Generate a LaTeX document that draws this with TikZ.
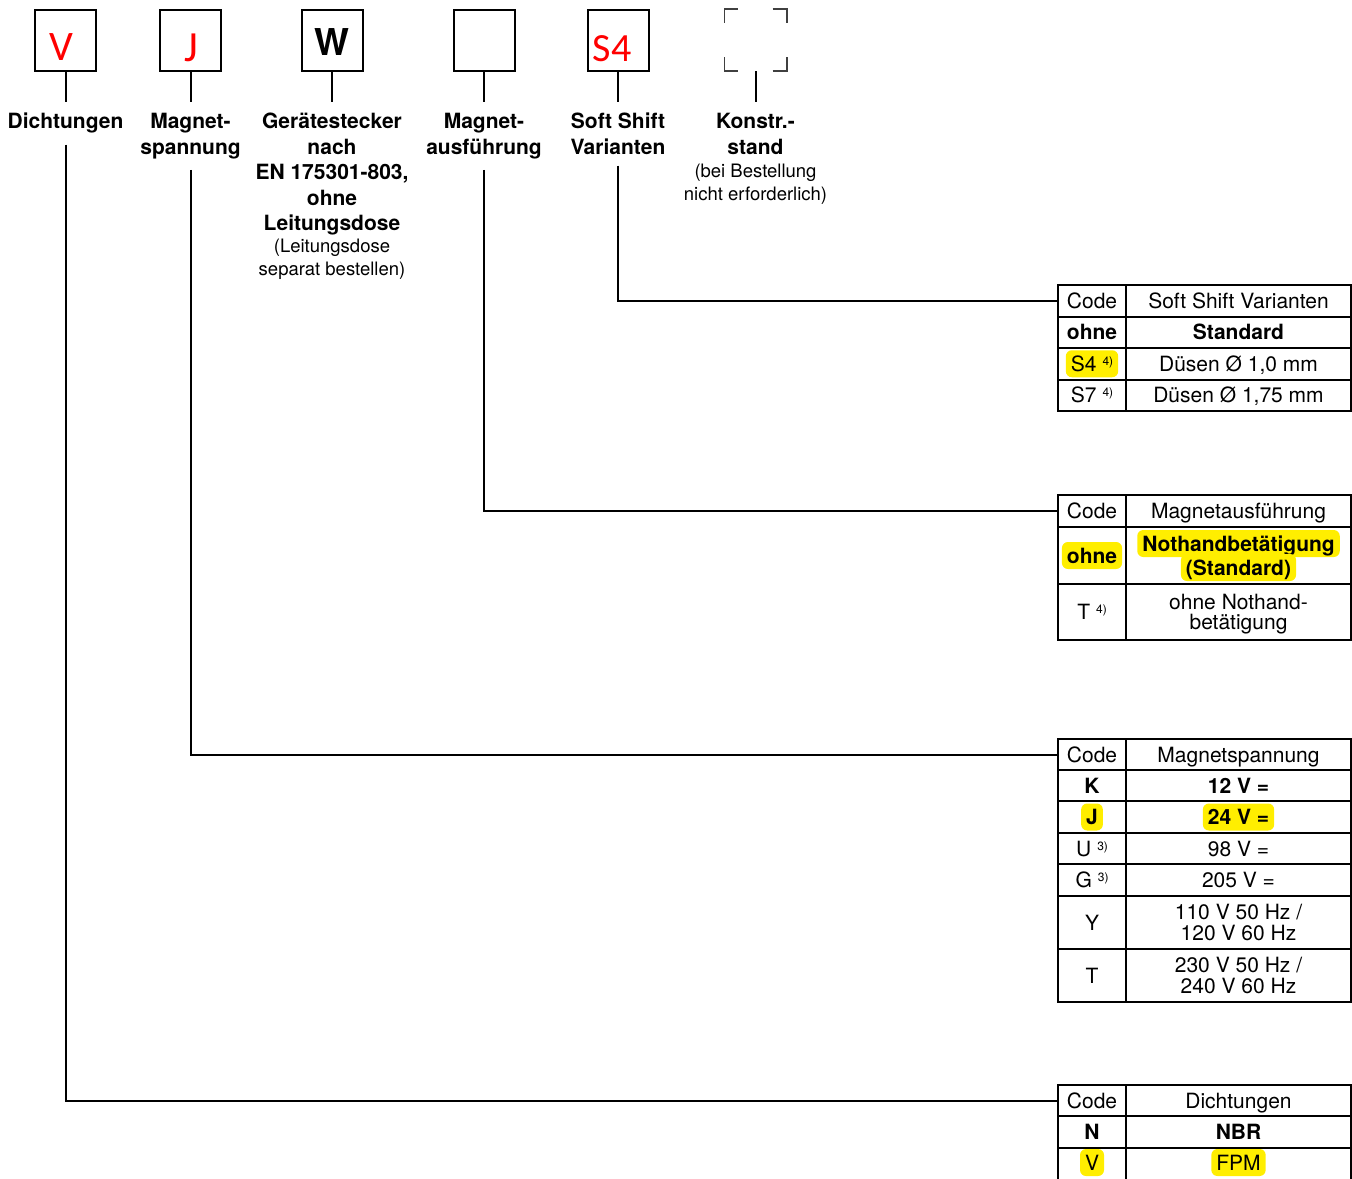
\documentclass[tikz,border=0pt]{standalone}
\usepackage{fontspec}
\setmainfont{TeX Gyre Heros}
\newfontfamily\boxletterfont{Carlito}
\definecolor{hly}{RGB}{255,238,0}
\definecolor{codered}{RGB}{255,0,0}
\newcommand\lblfont{\fontsize{21}{25.5}\selectfont\bfseries}
\newcommand\notefont{\fontsize{18.5}{23}\selectfont}
\newcommand\cellfont{\fontsize{21}{20.5}\selectfont}
\newcommand\fnote[1]{\hspace{6pt}\raisebox{6pt}{\fontsize{12}{12}\selectfont #1}}
\newcommand\tcell[6]{\node[cellbox, minimum width=#4pt, minimum height=#5pt] (#1) at (#2,#3) {#6};}
\begin{document}
\begin{tikzpicture}[x=1pt,y=-1pt,
  conn/.style={line width=2pt},
  topbox/.style={draw, line width=2pt, minimum size=61pt, inner sep=0pt},
  redletter/.style={text=codered, font=\boxletterfont\fontsize{#1}{#1}\selectfont, inner sep=0pt, anchor=base},
  lbl/.style={font=\lblfont, align=center, inner xsep=0pt, inner ysep=11pt, anchor=north},
  note/.style={font=\notefont, align=center, inner sep=0pt, anchor=north},
  cellbox/.style={draw, line width=2pt, inner sep=0pt, font=\cellfont, align=center, text height=15pt, text depth=0pt, anchor=north west},
  twoline/.style={text height=35.5pt},
  hl/.style={fill=hly, rounded corners=6pt, inner xsep=5pt, inner ysep=6pt, font=\cellfont, text height=15pt, text depth=0pt},
  corner/.style={line width=1.6pt, draw=black!75}
]
\useasboundingbox (0,0) rectangle (1352,1178);
\clip (0,0) rectangle (1352,1178);

% top code boxes
\node[topbox] (bV) at (65.5,40.5) {};
\node[topbox] (bJ) at (190.5,40.5) {};
\node[topbox] (bW) at (332,40.5) {};
\node[topbox] (bM) at (484,40.5) {};
\node[topbox] (bS) at (618,40.5) {};
\node[minimum size=62pt, inner sep=0pt] (bK) at (755.5,40) {};
\draw[corner] ([yshift=-14pt]bK.north west) -- (bK.north west) -- ([xshift=14pt]bK.north west);
\draw[corner] ([xshift=-14pt]bK.north east) -- (bK.north east) -- ([yshift=-14pt]bK.north east);
\draw[corner] ([yshift=14pt]bK.south west) -- (bK.south west) -- ([xshift=14pt]bK.south west);
\draw[corner] ([xshift=-14pt]bK.south east) -- (bK.south east) -- ([yshift=14pt]bK.south east);

\node[redletter=42] (tV) at (61,60) {V};
\node[redletter=43] (tJ) at (191,61) {J};
\node[font=\fontsize{37}{37}\selectfont\bfseries, inner sep=0pt, anchor=base] (tW) at (332,55) {W};
\node[redletter=40] (tS) at (612,61) {S4};

% labels
\node[lbl] (lV) at (65.5,102) {Dichtungen};
\node[lbl] (lJ) at (190.5,102) {Magnet-\\spannung};
\node[lbl] (lW) at (332,102) {Gerätestecker\\nach\\EN 175301-803,\\ohne\\Leitungsdose};
\node[lbl] (lM) at (484,102) {Magnet-\\ausführung};
\node[lbl] (lS) at (618,102) {Soft Shift\\Varianten};
\node[lbl] (lK) at (755.5,102) {Konstr.-\\stand};
\node[note] (nW) at (332,238.5) {(Leitungsdose\\separat bestellen)};
\node[note] (nK) at (755.5,163.5) {(bei Bestellung\\nicht erforderlich)};

% table 1: Soft Shift Varianten
\tcell{t1c0}{1057}{284}{68}{31.5}{Code}
\tcell{t1d0}{1125}{284}{225}{31.5}{Soft Shift Varianten}
\tcell{t1c1}{1057}{315.5}{68}{31.5}{\bfseries ohne}
\tcell{t1d1}{1125}{315.5}{225}{31.5}{\bfseries Standard}
\tcell{t1c2}{1057}{347}{68}{31.5}{}
\node[hl] (t1h2) at (t1c2) {S4\fnote{4)}};
\tcell{t1d2}{1125}{347}{225}{31.5}{Düsen Ø 1,0 mm}
\tcell{t1c3}{1057}{378.5}{68}{31.5}{S7\fnote{4)}}
\tcell{t1d3}{1125}{378.5}{225}{31.5}{Düsen Ø 1,75 mm}

% table 2: Magnetausfuehrung
\tcell{t2c0}{1057}{494}{68}{32}{Code}
\tcell{t2d0}{1125}{494}{225}{32}{Magnetausführung}
\tcell{t2c1}{1057}{526}{68}{57}{}
\node[hl] (t2h1) at (t2c1) {\bfseries ohne};
\tcell{t2d1}{1125}{526}{225}{57}{}
\node[hl] (t2h1a) at ([yshift=12pt]t2d1.center) {\bfseries Nothandbetätigung};
\node[hl] (t2h1b) at ([yshift=-12pt]t2d1.center) {\bfseries (Standard)};
\tcell{t2c2}{1057}{583}{68}{56}{T\fnote{4)}}
\node[cellbox, twoline, minimum width=225pt, minimum height=56pt] (t2d2) at (1125,583) {ohne Nothand-\\betätigung};

% table 3: Magnetspannung
\tcell{t3c0}{1057}{738}{68}{31}{Code}
\tcell{t3d0}{1125}{738}{225}{31}{Magnetspannung}
\tcell{t3c1}{1057}{769}{68}{31}{\bfseries K}
\tcell{t3d1}{1125}{769}{225}{31}{\bfseries 12 V =}
\tcell{t3c2}{1057}{800}{68}{32}{}
\node[hl] (t3h2) at (t3c2) {\bfseries J};
\tcell{t3d2}{1125}{800}{225}{32}{}
\node[hl] (t3h2d) at (t3d2) {\bfseries 24 V =};
\tcell{t3c3}{1057}{832}{68}{31}{U\fnote{3)}}
\tcell{t3d3}{1125}{832}{225}{31}{98 V =}
\tcell{t3c4}{1057}{863}{68}{32}{G\fnote{3)}}
\tcell{t3d4}{1125}{863}{225}{32}{205 V =}
\tcell{t3c5}{1057}{895}{68}{53}{Y}
\node[cellbox, twoline, minimum width=225pt, minimum height=53pt] (t3d5) at (1125,895) {110 V 50 Hz /\\120 V 60 Hz};
\tcell{t3c6}{1057}{948}{68}{53}{T}
\node[cellbox, twoline, minimum width=225pt, minimum height=53pt] (t3d6) at (1125,948) {230 V 50 Hz /\\240 V 60 Hz};

% table 4: Dichtungen
\tcell{t4c0}{1057}{1084}{68}{31}{Code}
\tcell{t4d0}{1125}{1084}{225}{31}{Dichtungen}
\tcell{t4c1}{1057}{1115}{68}{32}{\bfseries N}
\tcell{t4d1}{1125}{1115}{225}{32}{\bfseries NBR}
\tcell{t4c2}{1057}{1147}{68}{45}{}
\tcell{t4d2}{1125}{1147}{225}{45}{}
\node[hl] (t4h2) at ([yshift=-15.5pt]t4c2.north) {V};
\node[hl] (t4h2d) at ([yshift=-15.5pt]t4d2.north) {FPM};

% connectors
\draw[conn] (bV.south) -- (lV.north);
\draw[conn] (bJ.south) -- (lJ.north);
\draw[conn] (bW.south) -- (lW.north);
\draw[conn] (bM.south) -- (lM.north);
\draw[conn] (bS.south) -- (lS.north);
\draw[conn] (bK.south) -- (lK.north);
\draw[conn] (lV.south) |- (t4c0.west);
\draw[conn] (lJ.south) |- (t3c0.west);
\draw[conn] (lM.south) |- (t2c0.west);
\draw[conn] (lS.south) |- (t1c0.west);
\end{tikzpicture}
\end{document}
